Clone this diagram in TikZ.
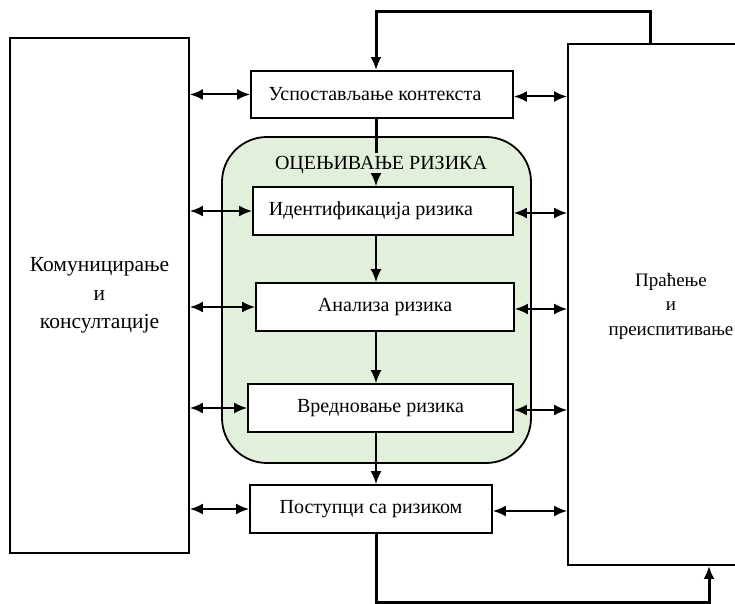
\documentclass[tikz,border=0pt]{standalone}
\usepackage{fontspec}
\setmainfont{Liberation Serif}
\usepackage{tikz}
\usetikzlibrary{arrows.meta}
\definecolor{assess}{RGB}{226, 239, 218}

\begin{document}
\begin{tikzpicture}[x=1pt, y=-1pt,
  box/.style={draw, line width=1.8pt, inner sep=0pt, align=center,
    font=\fontsize{20}{27}\selectfont},
  link/.style={<->, >={Latex[length=13pt, width=11pt]}, line width=2pt},
  flow/.style={->, >={Latex[length=13pt, width=11pt]}, line width=2pt},
  retline/.style={line width=3pt, >={Latex[length=13pt, width=11pt]}}
]
  \useasboundingbox (0,0) rectangle (735,604);

  % outer columns
  \node[box, minimum width=179, minimum height=515,
    font=\fontsize{21.5}{28.5}\selectfont] (komun) at (99.5, 295.5)
    {Комуницирање\\и\\консултације};
  \node[box, minimum width=220, minimum height=521] (pracenje) at (678, 304.5) {};
  \node[font=\fontsize{19}{24.5}\selectfont, align=center] (pracenjetxt)
    at (671, 306) {Праћење\\и\\преиспитивање};

  % risk assessment block
  \node[box, fill=assess, rounded corners=45, minimum width=309,
    minimum height=326] (ocena) at (376.5, 300) {};

  \node[box, fill=white, minimum width=262, minimum height=47] (uspost) at (382, 94.5)
    {Успостављање контекста\hspace{14pt}};
  \node[box, fill=white, minimum width=260, minimum height=48] (identif) at (383, 211)
    {Идентификација ризика\hspace{24pt}};
  \node[box, fill=white, minimum width=258, minimum height=48] (analiza) at (385, 307)
    {Анализа ризика};
  \node[box, fill=white, minimum width=265, minimum height=48] (vrednov) at (380.5, 408)
    {Вредновање ризика};
  \node[box, fill=white, minimum width=242, minimum height=48] (postupci) at (371, 509)
    {Поступци са ризиком};

  \coordinate (axis) at (376, 0);
  \coordinate (topret) at (650, 12);
  \coordinate (botret) at (709, 602);

  % flow down the middle
  \draw[retline] (uspost.south -| axis) -- ++(0, 34);
  \node[font=\fontsize{20}{24}\selectfont, fill=assess, inner sep=1pt] (naslov)
    at (381, 165) {ОЦЕЊИВАЊЕ РИЗИКА};
  \draw[flow] (naslov.south -| axis) -- (identif.north -| axis);
  \draw[flow] (identif.south -| axis) -- (analiza.north -| axis);
  \draw[flow] (analiza.south -| axis) -- (vrednov.north -| axis);
  \draw[flow] (vrednov.south -| axis) -- (postupci.north -| axis);

  % links to both columns
  \foreach \n in {uspost, identif, analiza, vrednov, postupci} {
    \draw[link] (komun.east |- \n.west) -- (\n.west);
    \draw[link] ([yshift=-2pt]\n.east) -- ([yshift=-2pt]pracenje.west |- \n.east);
  }

  % return paths
  \draw[retline, ->] (pracenje.north -| topret) -- (topret) -| (uspost.north -| axis);
  \draw[retline, ->] (postupci.south -| axis) |- (botret) -- (pracenje.south -| botret);
\end{tikzpicture}
\end{document}
